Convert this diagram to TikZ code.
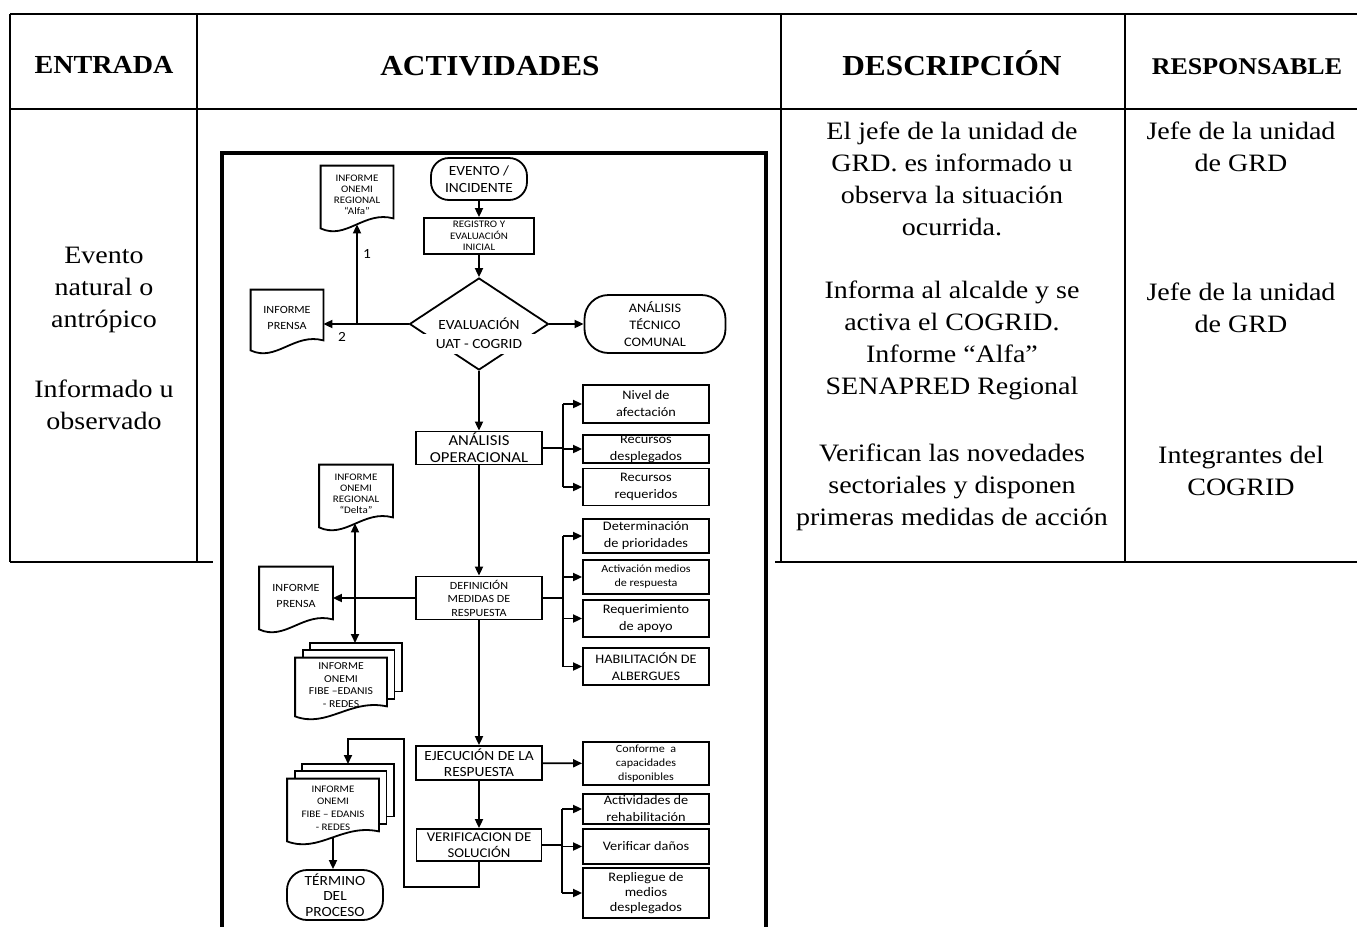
\documentclass[tikz,border=0pt]{standalone}
\usepackage{fontspec}
\setmainfont{Liberation Serif}[FakeStretch=1.12]
\newfontfamily\hdfont{Liberation Serif}[FakeStretch=1.08]
\newfontfamily\flowfont{Carlito}[FakeStretch=1.1]
\usetikzlibrary{arrows.meta,shapes.geometric,calc,backgrounds}

\tikzset{
  tline/.style={line width=1.2pt},
  fbord/.style={line width=2.2pt},
  hd/.style={anchor=base, font=\hdfont\bfseries\fontsize{#1}{#1}\selectfont},
  body/.style={align=center, inner sep=0pt, font=\fontsize{12.5}{16}\selectfont},
  fs/.style 2 args={font=\flowfont\fontsize{#1}{#2}\selectfont},
  fbox/.style={draw, line width=0.9pt, fill=white, align=center, inner sep=0pt, minimum width=63pt, fs={6.5}{8.5}},
  fterm/.style={fbox, rounded corners=9pt},
  fdec/.style={draw, diamond, line width=0.9pt, inner sep=0pt, aspect=1.5, fs={7}{8}},
  fdoc/.style={align=center, inner sep=0pt, minimum width=36pt, minimum height=29pt, fs={5}{5.5}},
  fline/.style={line width=0.9pt},
  flow/.style={fline, -{Triangle[length=4.5pt,width=4pt]}},
  flow2/.style={fline, {Triangle[length=4.5pt,width=4pt]}-{Triangle[length=4.5pt,width=4pt]}},
}

% document symbol with wavy bottom, drawn round a node
\newcommand{\docline}[1]{%
  \draw[fline, fill=white] let \p1=(#1.south west), \p2=(#1.north east), \n1={\x2-\x1} in
    (\x1,\y2) -- (\x2,\y2) -- (\x2,\y1+3pt)
    .. controls (\x1+0.6*\n1,\y1+7pt) and (\x1+0.35*\n1,\y1-8pt) .. (\x1,\y1-2pt) -- cycle;}
% pages behind a multi-document
\newcommand{\docback}[2]{%
  \draw[fline, fill=white] let \p1=(#1.south west), \p2=(#1.north east) in
    (\x1+#2*3.75pt,\y1+3pt+#2*3.75pt) rectangle (\x2+#2*3.75pt,\y2+#2*3.75pt);}

\begin{document}
\begin{tikzpicture}[x=0.5pt, y=-0.5pt]
\useasboundingbox (0,0) rectangle (1357,927);

% table
\draw[tline] (10,14) -- (1357,14);
\draw[tline] (10,109) -- (1357,109);
\draw[tline] (10,562) -- (213,562);
\draw[tline] (775,562) -- (1357,562);
\foreach \x in {10,197,781,1125}
  \draw[tline] (\x,14) -- (\x,562);

\node[hd=13] (hent) at (104,73.5) {ENTRADA};
\node[hd=14.5] (hact) at (490,75) {ACTIVIDADES};
\node[hd=14.5] (hdesc) at (952,75) {DESCRIPCIÓN};
\node[hd=12] (hresp) at (1247,74) {RESPONSABLE};

\node[body] (ent1) at (104,290) {Evento\\natural o\\antrópico};
\node[body] (ent2) at (104,405) {Informado u\\observado};
\node[body] (desc1) at (952,179) {El jefe de la unidad de\\GRD. es informado u\\observa la situación\\ocurrida.};
\node[body] (desc2) at (952,340) {Informa al alcalde y se\\activa el COGRID.\\Informe “Alfa”\\SENAPRED Regional};
\node[body] (desc3) at (952,487) {Verifican las novedades\\sectoriales y disponen\\primeras medidas de acción};
\node[body] (resp1) at (1241,147) {Jefe de la unidad\\de GRD};
\node[body] (resp2) at (1241,308) {Jefe de la unidad\\de GRD};
\node[body] (resp3) at (1241,471) {Integrantes del\\COGRID};

% flowchart
\draw[fbord] (222,927) -- (222,153) -- (766,153) -- (766,927);

\node[fterm, minimum width=48pt, minimum height=21pt, fs={7}{8.5}] (evento) at (479,179) {EVENTO /\\INCIDENTE};
\node[fbox, minimum width=55pt, minimum height=18pt, fs={5}{5.8}] (registro) at (479,236) {REGISTRO Y\\EVALUACIÓN\\INICIAL};
\node[fdec, minimum width=69.5pt, minimum height=46pt,
  label={[fill=white, inner xsep=7.5pt, inner ysep=2.5pt, fs={7}{8}, yshift=-10pt]center:UAT - COGRID}] (eval) at (479,324) {EVALUACIÓN};
\node[fterm, rounded corners=12pt, minimum width=70.5pt, minimum height=29pt] (atc) at (655,324) {ANÁLISIS\\TÉCNICO\\COMUNAL};
\node[fdoc] (alfa) at (357,195) {INFORME\\ONEMI\\REGIONAL\\“Alfa”};
\node[fdoc, minimum height=28pt, fs={5.5}{8}] (pr1) at (287,318) {INFORME\\PRENSA};
\node[fs={7}{8}] (n1) at (367,254) {1};
\node[fs={7}{8}] (n2) at (342,337) {2};

\node[fbox, minimum height=16.5pt, fs={7.6}{8.5}] (aop) at (479,448) {ANÁLISIS\\OPERACIONAL};
\node[fbox, minimum height=19pt] (nivel) at (646,404) {Nivel de\\afectación};
\node[fbox, minimum height=14pt] (rdes) at (646,449) {Recursos\\desplegados};
\node[fbox, minimum height=18.5pt] (rreq) at (646,487) {Recursos\\requeridos};

\node[fbox, minimum height=21.5pt, fs={5.5}{6.75}] (dmr) at (479,598) {DEFINICIÓN\\MEDIDAS DE\\RESPUESTA};
\node[fbox, minimum height=17pt] (det) at (646,536) {Determinación\\de prioridades};
\node[fbox, minimum height=17pt, fs={5.5}{7}] (actv) at (646,577) {Activación medios\\de respuesta};
\node[fbox, minimum height=18.5pt] (reqa) at (646,618.5) {Requerimiento\\de apoyo};
\node[fbox, minimum height=18.5pt] (hab) at (646,666.5) {HABILITACIÓN DE\\ALBERGUES};
\node[fdoc, minimum width=36.5pt] (delta) at (356,494) {INFORME\\ONEMI\\REGIONAL\\“Delta”};
\node[fdoc, minimum width=36.5pt, fs={5.5}{8}] (pr2) at (296,596) {INFORME\\PRENSA};
\node[fdoc, minimum width=45.5pt, minimum height=27pt, fs={5.3}{6.2}] (m1) at (341,685) {INFORME\\ONEMI\\FIBE –EDANIS\\- REDES};

\node[fbox, minimum height=17pt, fs={7}{8}] (ejec) at (479,763) {EJECUCIÓN DE LA\\RESPUESTA};
\node[fbox, minimum height=21.5pt, fs={5.5}{7}] (conf) at (646,763.5) {Conforme\ \ a\\capacidades\\disponibles};
\node[fbox, minimum width=62.5pt, minimum height=16pt, fs={6.7}{8}] (verif) at (479,845) {VERIFICACION DE\\SOLUCIÓN};
\node[fbox, minimum height=15pt, fs={6.5}{8.5}] (rehab) at (646,809) {Actividades de\\rehabilitación};
\node[fbox, minimum height=17.5pt, fs={6.5}{8}] (vdan) at (646,846.5) {Verificar daños};
\node[fbox, minimum height=25pt, fs={6.5}{7.7}] (repl) at (646,893) {Repliegue de\\medios\\desplegados};
\node[fdoc, minimum width=45.5pt, minimum height=29pt, fs={5}{6.3}] (m2) at (333,808) {INFORME\\ONEMI\\FIBE – EDANIS\\- REDES};
\node[fterm, rounded corners=10pt, minimum width=48pt, minimum height=25pt, fs={7}{7.7}] (term) at (335,895) {TÉRMINO\\DEL\\PROCESO};

\begin{pgfonlayer}{background}
  \foreach \d in {alfa,pr1,delta,pr2} \docline{\d};
  \docback{m1}{2} \docback{m1}{1} \docline{m1}
  \docback{m2}{2} \docback{m2}{1} \docline{m2}
\end{pgfonlayer}

% connectors
\draw[flow] (evento) -- (registro);
\draw[flow] (registro) -- (eval);
\draw[flow] (eval) -- (atc);
\coordinate (j1) at (357,324);
\draw[fline] (eval.west) -- (j1);
\draw[flow] (j1) -- (j1 -| pr1.east);
\draw[flow] (j1) -- (alfa.south);
\draw[flow] (eval) -- (aop);
\coordinate (b1) at (563,448);
\draw[fline] (aop.east) -- (b1);
\draw[fline] (b1 |- nivel) -- (b1 |- rreq);
\foreach \n in {nivel,rdes,rreq} \draw[flow] (b1 |- \n) -- (\n);

\draw[flow] (aop) -- (dmr);
\coordinate (b2) at (563,598);
\draw[fline] (dmr.east) -- (b2);
\draw[fline] (b2 |- det) -- (b2 |- hab);
\foreach \n in {det,actv,reqa,hab} \draw[flow] (b2 |- \n) -- (\n);
\draw[flow] (dmr.west) -- (dmr.west -| pr2.east);
\coordinate (m1top) at (355,643);
\draw[flow2] (delta.south -| m1top) -- (m1top);

\draw[flow] (dmr) -- (ejec);
\draw[flow] (ejec) -- (conf);
\draw[flow] (ejec) -- (verif);
\coordinate (b3) at (562,845);
\draw[fline] (verif.east) -- (b3);
\draw[fline] (b3 |- rehab) -- (b3 |- repl);
\foreach \n in {rehab,vdan,repl} \draw[flow] (b3 |- \n) -- (\n);
\coordinate (lp1) at (404,887);
\coordinate (lp2) at (404,739);
\coordinate (m2top) at (348,764);
\draw[flow] (verif.south) |- (lp1) -- (lp2) -| (m2top);
\draw[flow] (m2.south) -- (m2.south |- term.north);
\end{tikzpicture}
\end{document}
